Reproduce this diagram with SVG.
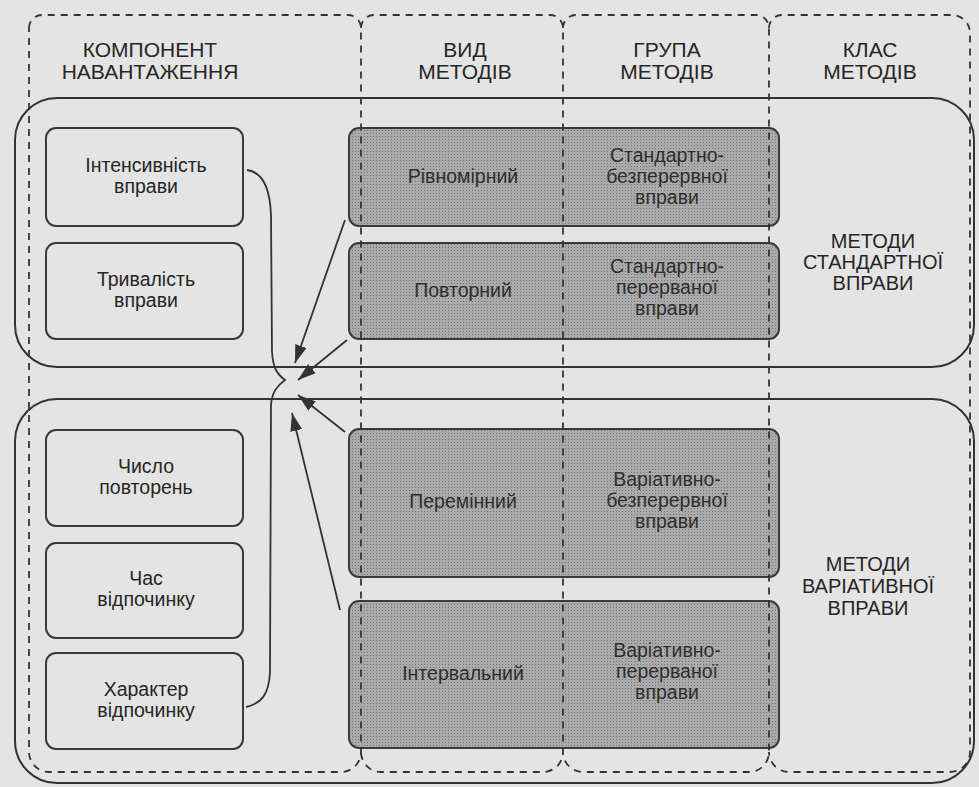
<svg xmlns="http://www.w3.org/2000/svg" width="979" height="787" viewBox="0 0 979 787">
<defs>
<pattern id="dots" width="3" height="3" patternUnits="userSpaceOnUse">
<rect width="3" height="3" fill="#aaaaaa"/>
<rect x="1" y="1" width="1" height="1" fill="#747474"/>
</pattern>
<marker id="arr" markerUnits="userSpaceOnUse" markerWidth="19" markerHeight="12" refX="18" refY="6" orient="auto">
<path d="M0,0 L18,6 L0,12 Z" fill="#333"/>
</marker>
<style>
.grp{fill:none;stroke:#333;stroke-width:2}
.box{fill:none;stroke:#3a3a3a;stroke-width:2}
.gbox{fill:url(#dots);stroke:#3a3a3a;stroke-width:2}
.dash{fill:none;stroke:#333;stroke-width:1.8;stroke-dasharray:7 6}
.con{fill:none;stroke:#333;stroke-width:1.8}
text{font-family:"Liberation Sans",Arial,sans-serif;fill:#262626;text-anchor:middle}
.h{font-size:21px}
.t{font-size:19.5px}
.g{font-size:19.5px;fill:#2e2e2e}
.c{font-size:20px}
</style>
</defs>
<rect width="979" height="787" fill="#e4e4e4"/>

<g id="group-standard"><rect class="grp" x="15" y="98" width="959" height="269" rx="42"/></g>
<g id="group-variative"><rect class="grp" x="15" y="399" width="959" height="384" rx="42"/></g>

<g id="load-intensity"><rect class="box" x="46" y="128" width="197" height="98" rx="10"/>
<text class="t" x="146" y="172">Інтенсивність</text><text class="t" x="146" y="193">вправи</text></g>
<g id="load-duration"><rect class="box" x="46" y="243" width="197" height="96" rx="10"/>
<text class="t" x="146" y="286">Тривалість</text><text class="t" x="146" y="307">вправи</text></g>
<g id="load-repeats"><rect class="box" x="46" y="430" width="197" height="96" rx="10"/>
<text class="t" x="146" y="473">Число</text><text class="t" x="146" y="494">повторень</text></g>
<g id="load-rest-time"><rect class="box" x="46" y="543" width="197" height="95" rx="10"/>
<text class="t" x="146" y="585">Час</text><text class="t" x="146" y="606">відпочинку</text></g>
<g id="load-rest-type"><rect class="box" x="46" y="653" width="197" height="96" rx="10"/>
<text class="t" x="146" y="696">Характер</text><text class="t" x="146" y="717">відпочинку</text></g>

<g id="m-uniform"><rect class="gbox" x="349" y="128" width="430" height="98" rx="10"/>
<text class="g" x="463" y="183">Рівномірний</text>
<text class="g" x="667" y="162">Стандартно-</text><text class="g" x="667" y="183">безперервної</text><text class="g" x="667" y="204">вправи</text></g>
<g id="m-repeated"><rect class="gbox" x="349" y="243" width="430" height="96" rx="10"/>
<text class="g" x="463" y="297">Повторний</text>
<text class="g" x="667" y="273">Стандартно-</text><text class="g" x="667" y="294">перерваної</text><text class="g" x="667" y="315">вправи</text></g>
<g id="m-variable"><rect class="gbox" x="349" y="429" width="430" height="148" rx="10"/>
<text class="g" x="463" y="508">Перемінний</text>
<text class="g" x="667" y="486">Варіативно-</text><text class="g" x="667" y="507">безперервної</text><text class="g" x="667" y="528">вправи</text></g>
<g id="m-interval"><rect class="gbox" x="349" y="601" width="430" height="147" rx="10"/>
<text class="g" x="463" y="680">Інтервальний</text>
<text class="g" x="667" y="657">Варіативно-</text><text class="g" x="667" y="678">перерваної</text><text class="g" x="667" y="699">вправи</text></g>

<g id="columns">
<path class="dash" d="M29,28 A13,13 0 0 1 42,15 L348,15 A13,13 0 0 1 361,28 L361,752 A20,20 0 0 1 341,772 L49,772 A20,20 0 0 1 29,752 Z"/>
<path class="dash" d="M361,28 A13,13 0 0 1 374,15 L550,15 A13,13 0 0 1 563,28 L563,752 A20,20 0 0 1 543,772 L381,772 A20,20 0 0 1 361,752"/>
<path class="dash" d="M563,28 A13,13 0 0 1 576,15 L756,15 A13,13 0 0 1 769,28 L769,752 A20,20 0 0 1 749,772 L583,772 A20,20 0 0 1 563,752"/>
<path class="dash" d="M769,28 A13,13 0 0 1 782,15 L952,15 A18,18 0 0 1 970,33 L970,752 A20,20 0 0 1 950,772 L789,772 A20,20 0 0 1 769,752"/>
</g>

<g id="headers">
<text class="h" x="150" y="57">КОМПОНЕНТ</text><text class="h" x="150" y="79">НАВАНТАЖЕННЯ</text>
<text class="h" x="465" y="57">ВИД</text><text class="h" x="465" y="79">МЕТОДІВ</text>
<text class="h" x="667" y="57">ГРУПА</text><text class="h" x="667" y="79">МЕТОДІВ</text>
<text class="h" x="870" y="57">КЛАС</text><text class="h" x="870" y="79">МЕТОДІВ</text>
</g>

<g id="class-standard">
<text class="c" x="873" y="248">МЕТОДИ</text><text class="c" x="873" y="269">СТАНДАРТНОЇ</text><text class="c" x="873" y="290">ВПРАВИ</text>
</g>
<g id="class-variative">
<text class="c" x="868" y="571">МЕТОДИ</text><text class="c" x="868" y="593">ВАРІАТИВНОЇ</text><text class="c" x="868" y="615">ВПРАВИ</text>
</g>

<g id="connectors">
<path class="con" d="M247,170 C262,172 270,188 271,215 L272,352 C273,368 277,374 285,380 C277,386 272,392 271,405 L270,672 C269,696 260,704 246,707"/>
<line class="con" x1="345" y1="220" x2="295" y2="363" marker-end="url(#arr)"/>
<line class="con" x1="347" y1="340" x2="298" y2="380" marker-end="url(#arr)"/>
<line class="con" x1="345" y1="432" x2="298" y2="395" marker-end="url(#arr)"/>
<line class="con" x1="340" y1="610" x2="292" y2="413" marker-end="url(#arr)"/>
</g>
</svg>
